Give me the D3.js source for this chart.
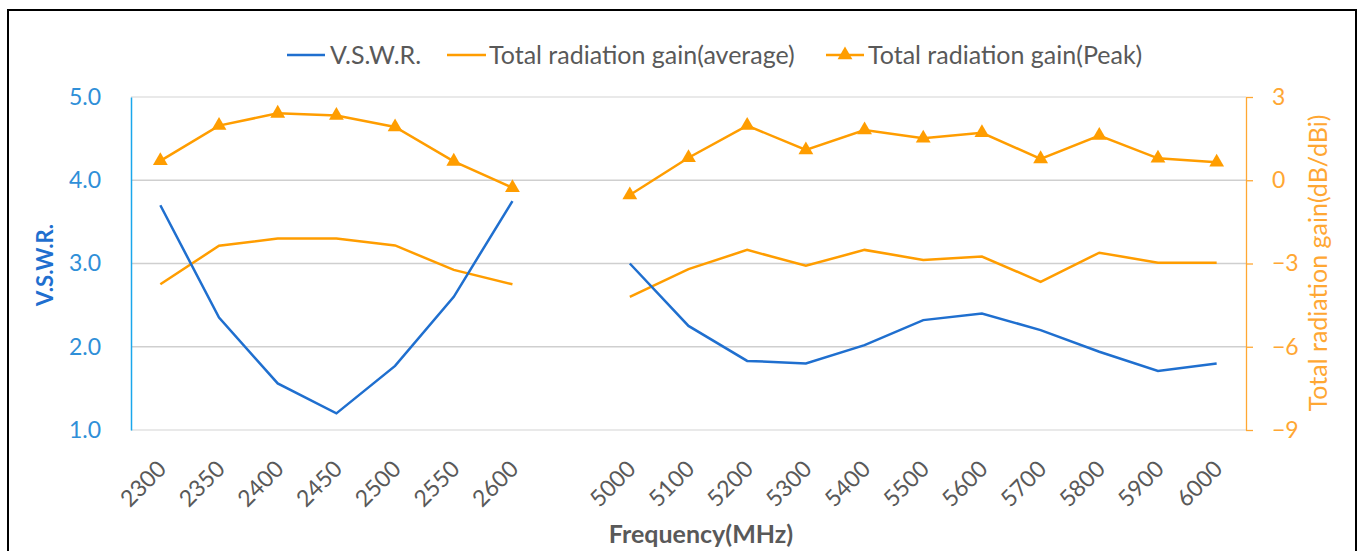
<!DOCTYPE html>
<html><head><meta charset="utf-8">
<script src="https://cdn.jsdelivr.net/npm/d3@7"></script>
<style>body{margin:0;background:#fff;} svg{display:block;font-family:Lato,"Open Sans",sans-serif;}</style>
</head><body><svg id="c" width="1361" height="551"></svg>
<script>
const categories = ["2300","2350","2400","2450","2500","2550","2600","","5000","5100","5200","5300","5400","5500","5600","5700","5800","5900","6000"];
const vswr = [3.7,2.35,1.56,1.2,1.77,2.6,3.75,null,3.0,2.25,1.83,1.8,2.02,2.32,2.4,2.2,1.94,1.71,1.8];
const gainAvg = [-3.75,-2.36,-2.1,-2.1,-2.35,-3.23,-3.75,null,-4.2,-3.2,-2.51,-3.08,-2.51,-2.87,-2.75,-3.66,-2.61,-2.97,-2.97];
const gainPeak = [0.7,1.97,2.41,2.33,1.92,0.68,-0.27,null,-0.53,0.81,1.97,1.09,1.81,1.51,1.71,0.77,1.61,0.79,0.65];
const leftTicks = [1,2,3,4,5];
const rightTicks = [-9,-6,-3,0,3];
const seriesNames = ["V.S.W.R.","Total radiation gain(average)","Total radiation gain(Peak)"];

const svg = d3.select("#c");
const L = 131, R = 1246, T = 97, B = 430;
const blue = "#1f6fcf", orange = "#ff9d00", lblue = "#2f8fd8", axBlue = "#1aa7ec", lorange = "#ffa733", grey = "#595959";

svg.append("rect").attr("x",8).attr("y",10).attr("width",1348).attr("height",560).attr("fill","none").attr("stroke","#000").attr("stroke-width",2);

const x = d3.scaleBand().domain(categories.map((c,i)=>i)).range([L,R]);
const yL = d3.scaleLinear().domain([1,5]).range([B,T]);
const yR = d3.scaleLinear().domain([-9,3]).range([B,T]);
const cx = i => x(i) + x.bandwidth()/2;

// gridlines
svg.append("g").selectAll("line").data(leftTicks).join("line")
  .attr("x1",L).attr("x2",R).attr("y1",d=>yL(d)).attr("y2",d=>yL(d))
  .attr("stroke",d=>(d===1||d===5)?"#e2e2e2":"#cfcfcf").attr("stroke-width",1.3);

// left axis
const gl = svg.append("g").attr("transform",`translate(${L},0)`)
  .call(d3.axisLeft(yL).tickValues(leftTicks).tickFormat(d3.format(".1f")).tickSize(0).tickPadding(30));
gl.select(".domain").attr("stroke",axBlue).attr("stroke-width",1.5);
gl.selectAll("text").attr("fill",lblue).style("font-size","23px").attr("font-family","Lato");

// right axis
const gr = svg.append("g").attr("transform",`translate(${R},0)`)
  .call(d3.axisRight(yR).tickValues(rightTicks).tickSize(7).tickPadding(19).tickSizeOuter(0));
gr.select(".domain").attr("stroke",lorange).attr("stroke-width",1.3);
gr.selectAll(".tick line").attr("stroke",lorange).attr("stroke-width",1.3);
gr.selectAll("text").attr("fill",lorange).style("font-size","23px").attr("font-family","Lato");

// x labels
svg.append("g").selectAll("text").data(categories).join("text")
  .attr("transform",(d,i)=>`translate(${cx(i)-4},${B+29}) rotate(-45)`)
  .attr("text-anchor","end").attr("dy","0.7em").attr("fill",grey).style("font-size","23px").text(d=>d);

// lines
const lineOf = ys => d3.line().defined(d=>d.v!=null).x(d=>cx(d.i)).y(d=>ys(d.v));
const idx = arr => arr.map((v,i)=>({v,i}));
svg.append("path").attr("d",lineOf(yR)(idx(gainAvg))).attr("fill","none").attr("stroke",orange).attr("stroke-width",2.5);
svg.append("path").attr("d",lineOf(yR)(idx(gainPeak))).attr("fill","none").attr("stroke",orange).attr("stroke-width",2.5);
svg.append("path").attr("d",lineOf(yL)(idx(vswr))).attr("fill","none").attr("stroke",blue).attr("stroke-width",2.5);

const tri = d3.symbol().type(d3.symbolTriangle).size(95);
svg.append("g").selectAll("path").data(idx(gainPeak).filter(d=>d.v!=null)).join("path")
  .attr("d",tri).attr("transform",d=>`translate(${cx(d.i)},${yR(d.v)})`).attr("fill",orange);

// axis titles
svg.append("text").attr("transform","translate(53,265) rotate(-90)").attr("text-anchor","middle")
  .attr("fill",blue).style("font-size","22px").style("font-weight","bold").text("V.S.W.R.");
svg.append("text").attr("transform","translate(1327,263) rotate(-90)").attr("text-anchor","middle")
  .attr("fill",lorange).style("font-size","25px").text("Total radiation gain(dB/dBi)");
svg.append("text").attr("x",701).attr("y",543).attr("text-anchor","middle")
  .attr("fill",grey).style("font-size","25px").style("font-weight","bold").text("Frequency(MHz)");

// legend
const lg = svg.append("g");
const items = [{x1:287,x2:325,tx:330,c:blue,m:false},{x1:447,x2:486,tx:489,c:orange,m:false},{x1:826,x2:864,tx:868,c:orange,m:true}];
items.forEach((it,k)=>{
  lg.append("line").attr("x1",it.x1).attr("x2",it.x2).attr("y1",55).attr("y2",55).attr("stroke",it.c).attr("stroke-width",2.5);
  if(it.m) lg.append("path").attr("d",tri).attr("transform",`translate(${(it.x1+it.x2)/2},55)`).attr("fill",it.c);
  lg.append("text").attr("x",it.tx).attr("y",55).attr("dy","0.35em").attr("fill",grey).style("font-size","25px").text(seriesNames[k]);
});
</script></body></html>
